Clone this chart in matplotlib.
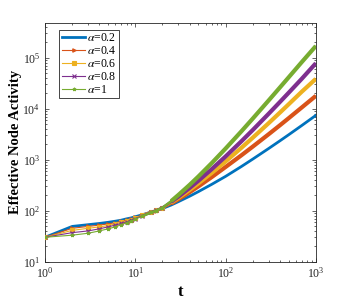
import matplotlib
matplotlib.use("Agg")
import matplotlib.pyplot as plt
from matplotlib.ticker import LogLocator, NullFormatter

plt.rcParams['font.family'] = ['Liberation Serif', 'DejaVu Serif']
plt.rcParams['mathtext.fontset'] = 'stix'

# time points
t = [1, 2, 3, 4, 5, 6, 7, 8, 9, 10, 12, 15, 17, 20, 25, 30, 40, 50, 70,
     100, 150, 200, 300, 400, 500, 700, 1000]

alpha_labels = [r'$\alpha$=0.2', r'$\alpha$=0.4', r'$\alpha$=0.6', r'$\alpha$=0.8', r'$\alpha$=1']

a02 = [30, 49, 53, 56, 59, 62, 65, 69, 72, 76, 83, 94, 100, 110, 129, 150, 192, 236, 327,
       470, 736, 1026, 1656, 2344, 3083, 4698, 7400]
a04 = [30, 45, 49, 52, 55, 58, 62, 66, 70, 74, 82, 94, 100, 112, 138, 167, 230, 299, 453,
       718, 1222, 1803, 3155, 4732, 6516, 10620, 17870]
a06 = [30, 41, 45, 48, 51, 55, 59, 63, 67, 72, 81, 94, 101, 114, 144, 178, 255, 343, 547,
       920, 1714, 2698, 5200, 8390, 12220, 21630, 38500]
a08 = [30, 37, 40, 44, 48, 52, 56, 60, 65, 70, 79, 93, 101, 115, 149, 188, 279, 386, 649,
       1156, 2301, 3819, 7962, 13550, 20560, 38820, 78000]
a10 = [30, 33, 36, 40, 44, 48, 53, 58, 63, 68, 78, 92, 100, 114, 154, 203, 321, 468, 851,
       1652, 3614, 6397, 14520, 26120, 41300, 82600, 170000]

series = [a02, a04, a06, a08, a10]
colors = ['#0072BD', '#D95319', '#EDB120', '#7E2F8E', '#77AC30']
markers = [None, '>', 's', 'x', '*']

fig = plt.figure(figsize=(3.49, 3.0), dpi=100)
ax = fig.add_axes([0.129, 0.128, 0.776, 0.796])

k1 = t.index(12)
k2 = t.index(25)
for i, (vals, c, m, lab) in enumerate(zip(series, colors, markers, alpha_labels)):
    if m is None:
        ax.plot(t, vals, color=c, lw=2.0, label=lab, zorder=2)
    else:
        ax.plot(t, vals, color=c, lw=0.8, marker=m, markersize=2.5,
                markeredgewidth=0.8, markevery=list(range(0, k2)),
                label=lab, zorder=2 + i)
        # dense markers make the curve look like a thick band at large t
        ax.plot(t[k1:k2 + 1], vals[k1:k2 + 1], color=c, lw=1.8, zorder=2 + i)
        ax.plot(t[k2:], vals[k2:], color=c, lw=3.0, solid_capstyle='butt', zorder=2 + i)

ax.set_xscale('log')
ax.set_yscale('log')
ax.set_xlim(1, 1000)
ax.set_ylim(10, 4.85e5)

ax.xaxis.set_major_locator(LogLocator(base=10, numticks=10))
ax.yaxis.set_major_locator(LogLocator(base=10, numticks=10))
ax.xaxis.set_minor_locator(LogLocator(base=10, subs=range(2, 10), numticks=10))
ax.yaxis.set_minor_locator(LogLocator(base=10, subs=range(2, 10), numticks=10))
ax.xaxis.set_minor_formatter(NullFormatter())
ax.yaxis.set_minor_formatter(NullFormatter())

gray = '#262626'
ax.tick_params(which='both', direction='in', top=True, right=True, colors=gray,
               labelsize=8.5, width=0.5)
ax.tick_params(which='major', length=3)
ax.tick_params(which='minor', length=1.6)
for s in ax.spines.values():
    s.set_color(gray)
    s.set_linewidth(0.6)

ax.set_xlabel('t', fontsize=12, fontweight='bold', labelpad=2)
ax.set_ylabel('Effective Node Activity', fontsize=10.5, fontweight='bold', labelpad=0)

leg = ax.legend(loc='upper left', bbox_to_anchor=(0.04, 0.985), fontsize=8.5,
                frameon=True, fancybox=False, edgecolor=gray, framealpha=1,
                handlelength=2.0, handletextpad=0.1, borderpad=0.2,
                labelspacing=0.08, borderaxespad=0.3)
leg.get_frame().set_linewidth(0.6)

fig.savefig('out.png', dpi=100)
